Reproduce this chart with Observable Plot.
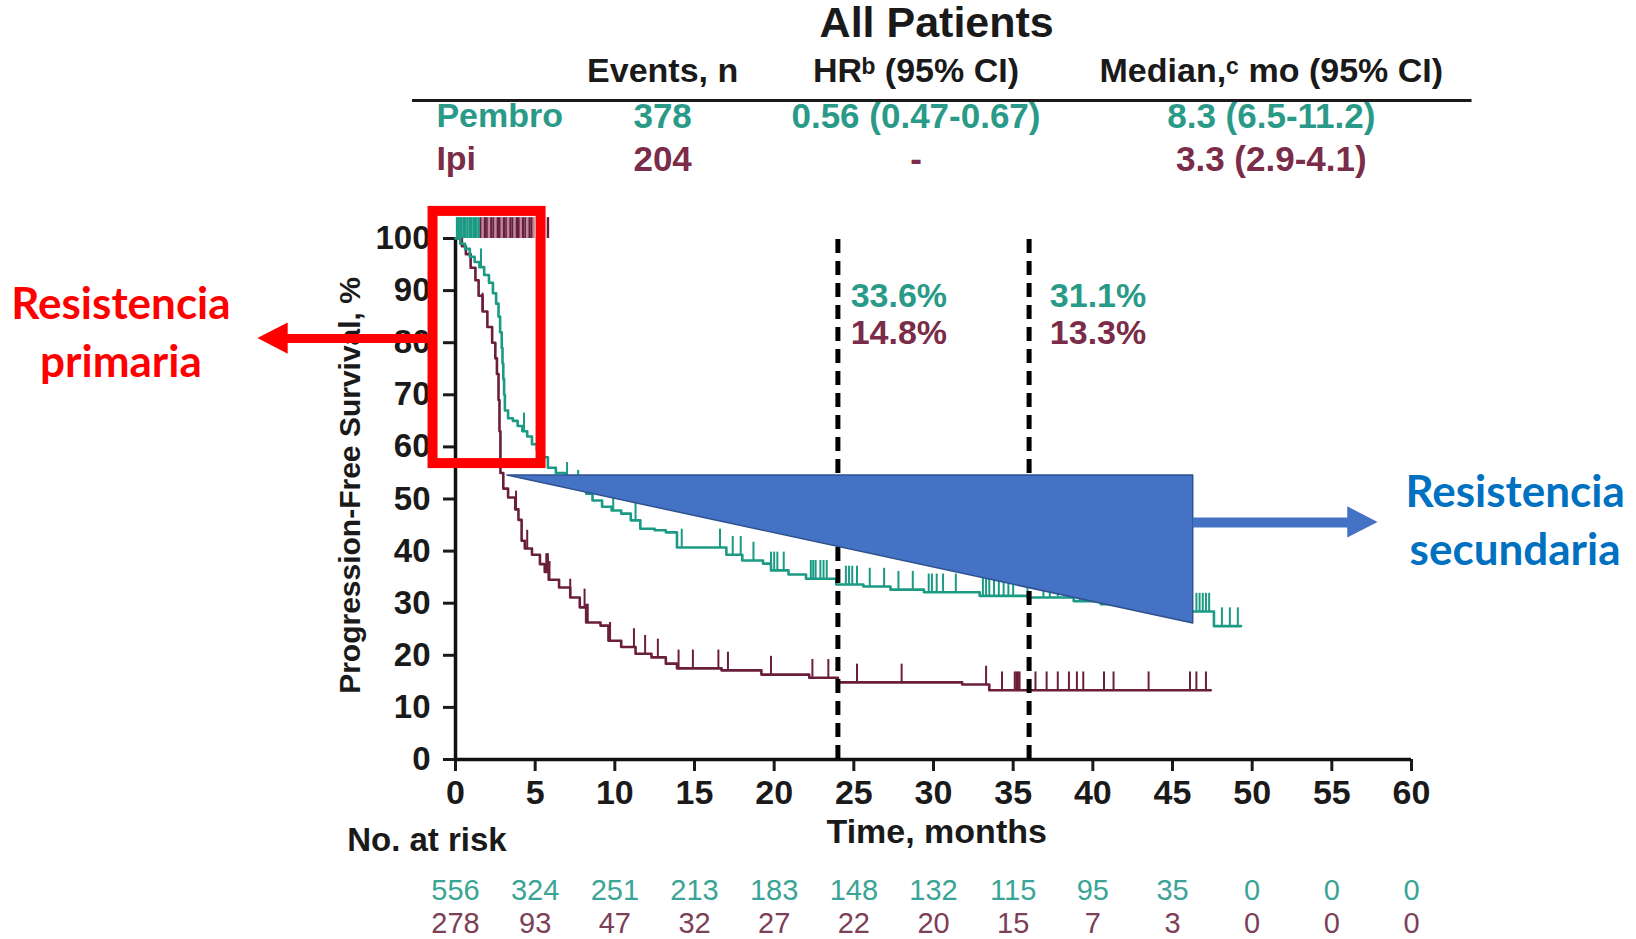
<!DOCTYPE html>
<html>
<head>
<meta charset="utf-8">
<script src="https://cdn.jsdelivr.net/npm/d3@7"></script>
<script src="https://cdn.jsdelivr.net/npm/@observablehq/plot@0.6"></script>
<style>
  html, body { margin: 0; padding: 0; background: #ffffff; }
  #chart svg { display: block; }
</style>
</head>
<body>
<div id="chart"></div>
<script>
// ---------------- DATA ----------------
const groups = ["Pembro", "Ipi"];
const tableHeaders = ["Events, n", "HR\u1D47 (95% CI)", "Median,\u1D9C mo (95% CI)"];
const eventsN = [378, 204];
const hazardRatio = ["0.56 (0.47-0.67)", "-"];
const medianPFS = ["8.3 (6.5-11.2)", "3.3 (2.9-4.1)"];

const riskTimes = [0, 5, 10, 15, 20, 25, 30, 35, 40, 45, 50, 55, 60];
const pembroAtRisk = [556, 324, 251, 213, 183, 148, 132, 115, 95, 35, 0, 0, 0];
const ipiAtRisk = [278, 93, 47, 32, 27, 22, 20, 15, 7, 3, 0, 0, 0];

// Kaplan-Meier step points (months, % progression-free)
const pembroTime = [0, 0.3, 0.6, 0.9, 1.2, 1.5, 1.8, 2.1, 2.35, 2.55, 2.7, 2.8, 2.9, 2.95, 3.0, 3.05, 3.1, 3.3, 3.6, 3.9, 4.2, 4.5, 4.8, 5.1, 5.5, 5.8, 6.3, 6.9, 7.5, 8.2, 8.6, 9.2, 9.8, 10.4, 11.0, 11.6, 12.5, 13.2, 13.9, 17.0, 18.0, 19.3, 19.8, 20.9, 22.0, 23.9, 25.6, 27.3, 29.4, 32.9, 35.9, 38.8, 40.5, 43.0, 45.5, 47.6, 49.3];
const pembroSurv = [100, 99, 98, 96.5, 95.5, 94.5, 93, 91.5, 89.5, 87.5, 85, 82, 79, 76, 73, 70, 67, 65.5, 65, 64, 63, 62, 60.5, 59.5, 58, 56, 55, 53.5, 52, 51, 49.7, 48.5, 47.8, 47.2, 45.9, 44.3, 44, 43.6, 40.7, 39.3, 38.2, 37.6, 36.3, 35.5, 34.7, 33.6, 33.2, 32.6, 32.1, 31.4, 31.1, 30.4, 29.8, 29.2, 28.4, 25.6, 25.6];

const ipiTime = [0, 0.4, 0.65, 0.95, 1.25, 1.45, 1.7, 2.0, 2.3, 2.5, 2.6, 2.7, 2.76, 2.82, 3.0, 3.3, 3.75, 3.95, 4.15, 4.35, 4.8, 5.3, 5.6, 5.85, 6.5, 7.2, 7.8, 8.2, 9.1, 9.6, 10.4, 11.3, 12.3, 13.2, 13.9, 16.7, 19.2, 22.2, 24.0, 31.8, 33.5, 47.4];
const ipiSurv = [100, 98.5, 97, 94.4, 92, 89, 86, 83, 80, 77, 74, 69, 63, 55, 52, 50.3, 48, 46, 42, 40.5, 39.3, 37.5, 36, 34.5, 33, 31.1, 29.2, 26.3, 25.7, 22.8, 21.6, 20.3, 19.6, 18.4, 17.5, 17.1, 16.3, 15.7, 14.8, 14.4, 13.3, 13.3];

// censoring times (months)
const pembroCensor = [1.6, 4.3, 7.0, 7.7, 9.9, 11.3, 14.2, 16.6, 17.4, 17.9, 18.7, 19.8, 20.0, 20.2, 20.6, 22.3, 22.45, 22.6, 22.9, 23.1, 23.3, 24.5, 24.7, 24.9, 25.2, 26.0, 26.9, 27.8, 28.7, 29.7, 29.9, 30.2, 30.6, 31.4, 33.1, 33.3, 33.5, 33.8, 34.1, 34.4, 34.7, 35.0, 35.9, 36.9, 37.3, 37.8, 38.5, 39.2, 40.0, 41.0, 42.0, 43.0, 44.0, 45.0, 46.5, 46.7, 46.9, 47.1, 47.3, 48.1, 48.6, 49.1];
const ipiCensor = [1.7, 3.8, 4.5, 5.7, 5.8, 5.9, 7.2, 8.1, 8.2, 8.3, 9.7, 11.2, 11.9, 12.7, 14.0, 14.9, 16.5, 17.1, 19.8, 22.4, 23.4, 25.2, 28.0, 33.3, 34.3, 35.1, 35.2, 35.3, 35.4, 36.4, 37.1, 37.8, 38.5, 39.0, 39.4, 40.7, 41.3, 43.5, 46.1, 46.5, 47.1];
const pembroCensorTop = [0.1, 0.2, 0.35, 0.5, 0.6, 0.75, 0.9, 1.0, 1.15, 1.3, 1.45];
const ipiCensorTop = [1.6, 1.7, 1.85, 2.0, 2.1, 2.25, 2.4, 2.5, 2.65, 2.8, 2.9, 3.05, 3.2, 3.3, 3.45, 3.6, 3.7, 3.85, 4.0, 4.1, 4.25, 4.4, 4.5, 4.65, 4.8, 4.9, 5.8];

// landmark estimates
const landmarkTimes = [24, 36];
const pembroLandmark = [33.6, 31.1];
const ipiLandmark = [14.8, 13.3];

// annotation texts
const primaryLabel = "Resistencia\nprimaria";
const secondaryLabel = "Resistencia\nsecundaria";
const titleText = "All Patients";
const yLabel = "Progression-Free Survival, %";
const xLabel = "Time, months";
const riskLabel = "No. at risk";

// ---------------- STYLE / LAYOUT ----------------
const TEAL = "#1b9a84";
const MAROON = "#6b1e3c";
const TEAL_TXT = "#2a9a88";
const MAROON_TXT = "#7a2c49";
const TEAL_RISK = "#3aa496";
const MAROON_RISK = "#7d4058";
const FONT = "'Liberation Sans', Arial, Helvetica, sans-serif";
const ANN_FONT = "Lato, 'Open Sans', sans-serif";

const stepSeries = (times, surv, name) => times.map((t, i) => ({t, s: surv[i], name}));
const survAt = (times, surv, t) => { let v = surv[0]; for (let i = 0; i < times.length; i++) { if (times[i] <= t) v = surv[i]; } return v; };

const pembroData = stepSeries(pembroTime, pembroSurv, "Pembro");
const ipiData = stepSeries(ipiTime, ipiSurv, "Ipi");
const pembroCens = pembroCensor.map(t => ({t, s: survAt(pembroTime, pembroSurv, t)}));
const ipiCens = ipiCensor.map(t => ({t, s: survAt(ipiTime, ipiSurv, t)}));
const TICK = 3.5;

// table layout (in chart units)
const colX = [13.0, 28.9, 51.2];
const rowLabelX = -1.2;
const rowY = [123.4, 115.2];
const headerY = 132.1;
const titleY = 141.3;
const rowColors = [TEAL_TXT, MAROON_TXT];

const rowLabels = groups.map((g, i) => ({x: rowLabelX, y: rowY[i], text: g, fill: rowColors[i]}));
const tableCells = [];
groups.forEach((g, i) => {
  tableCells.push({x: colX[0], y: rowY[i], text: String(eventsN[i]), fill: rowColors[i]});
  tableCells.push({x: colX[1], y: rowY[i], text: hazardRatio[i], fill: rowColors[i]});
  tableCells.push({x: colX[2], y: rowY[i], text: medianPFS[i], fill: rowColors[i]});
});
const headerRows = tableHeaders.map((h, i) => ({x: colX[i], y: headerY, text: h}));

const riskRows = [
  ...riskTimes.map((t, i) => ({t, n: pembroAtRisk[i], y: -25.1, fill: TEAL_RISK})),
  ...riskTimes.map((t, i) => ({t, n: ipiAtRisk[i], y: -31.6, fill: MAROON_RISK}))
];

const landmarkLabels = [
  ...landmarkTimes.map((t, i) => ({x: t + [0.8, 1.3][i], y: 89.0, text: pembroLandmark[i].toFixed(1) + "%", fill: TEAL_TXT})),
  ...landmarkTimes.map((t, i) => ({x: t + [0.8, 1.3][i], y: 81.8, text: ipiLandmark[i].toFixed(1) + "%", fill: MAROON_TXT}))
];

// annotation shapes (chart units)
const redBox = [{x1: -1.41, x2: 5.37, y1: 56.8, y2: 105.2}];
const redArrowY = 80.8;
const redHead = [{x: -12.4, y1: redArrowY, y2: redArrowY}, {x: -10.5, y1: redArrowY - 3, y2: redArrowY + 3}];
const blueTriangle = [{x: 3.26, y1: 54.5, y2: 54.5}, {x: 46.3, y1: 26.1, y2: 54.5}];
const blueArrowY = 45.5;
const blueHead = [{x: 56.0, y1: blueArrowY - 3, y2: blueArrowY + 3}, {x: 57.9, y1: blueArrowY, y2: blueArrowY}];

const chart = Plot.plot({
  width: 1636,
  height: 939,
  marginLeft: 455,
  marginRight: 225,
  marginTop: 238,
  marginBottom: 180,
  x: {domain: [0, 60]},
  y: {domain: [0, 100]},
  style: {fontFamily: FONT, color: "#1a1a1a", background: "#ffffff", overflow: "visible"},
  marks: [
    // axes
    Plot.axisX({ticks: riskTimes, tickSize: 12, tickPadding: 8, fontSize: 34, fontWeight: "bold", label: null, strokeWidth: 3}),
    Plot.axisY({ticks: d3.range(0, 101, 10), tickSize: 12, tickPadding: 13, fontSize: 33, fontWeight: "bold", label: null, strokeWidth: 3}),
    Plot.ruleY([0], {strokeWidth: 3.5, stroke: "#111"}),
    Plot.ruleX([0], {y1: 0, y2: 100, strokeWidth: 3.5, stroke: "#111"}),
    // curves
    Plot.line(ipiData, {x: "t", y: "s", curve: "step-after", stroke: MAROON, strokeWidth: 2.6}),
    Plot.line(pembroData, {x: "t", y: "s", curve: "step-after", stroke: TEAL, strokeWidth: 2.6}),
    // censor ticks
    Plot.ruleX(ipiCens, {x: "t", y1: "s", y2: d => d.s + TICK, stroke: MAROON, strokeWidth: 2}),
    Plot.ruleX(pembroCens, {x: "t", y1: "s", y2: d => d.s + TICK, stroke: TEAL, strokeWidth: 2}),
    Plot.ruleX(pembroCensorTop, {x: d => d, y1: 100, y2: 104, stroke: TEAL, strokeWidth: 2.5}),
    Plot.ruleX(ipiCensorTop, {x: d => d, y1: 100, y2: 104, stroke: (d, i) => i % 3 === 1 ? "#b88a9c" : MAROON, strokeWidth: 2.5}),
    // landmark lines
    Plot.ruleX(landmarkTimes, {y1: 0, y2: 101.2, stroke: "#000", strokeWidth: 5, strokeDasharray: "14,8"}),
    Plot.text(landmarkLabels, {x: "x", y: "y", text: "text", fill: "fill", textAnchor: "start", fontSize: 34, fontWeight: "bold"}),
    // header table
    Plot.text([titleText], {x: 30.2, y: titleY, text: d => d, fontSize: 43, fontWeight: "bold", fill: "#1a1a1a"}),
    Plot.text(headerRows, {x: "x", y: "y", text: "text", fontSize: 34, fontWeight: "bold", fill: "#1a1a1a"}),
    Plot.ruleY([126.5], {x1: -2.7, x2: 63.8, stroke: "#1a1a1a", strokeWidth: 3}),
    Plot.text(rowLabels, {x: "x", y: "y", text: "text", textAnchor: "start", fill: "fill", fontSize: 34, fontWeight: "bold"}),
    Plot.text(tableCells, {x: "x", y: "y", text: "text", fill: "fill", fontSize: 35, fontWeight: "bold"}),
    // axis labels
    Plot.text([yLabel], {x: -6.6, y: 52.6, text: d => d, rotate: -90, fontSize: 30, fontWeight: "bold", fill: "#1a1a1a"}),
    Plot.text([xLabel], {x: 30.2, y: -14.0, text: d => d, fontSize: 34, fontWeight: "bold", fill: "#1a1a1a"}),
    Plot.text([riskLabel], {x: -6.8, y: -15.5, text: d => d, textAnchor: "start", fontSize: 33, fontWeight: "bold", fill: "#1a1a1a"}),
    // risk table
    Plot.text(riskRows, {x: "t", y: "y", text: "n", fill: "fill", fontSize: 29}),
    // annotations
    Plot.rect(redBox, {x1: "x1", x2: "x2", y1: "y1", y2: "y2", fill: "none", stroke: "#ff0000", strokeWidth: 10}),
    Plot.ruleY([redArrowY], {x1: -10.6, x2: -1.41, stroke: "#ff0000", strokeWidth: 9}),
    Plot.areaY(redHead, {x: "x", y1: "y1", y2: "y2", fill: "#ff0000"}),
    Plot.text([primaryLabel], {x: -21.0, y: 82.5, text: d => d, fill: "#ff0000", fontSize: 44, fontWeight: "bold", fontFamily: ANN_FONT, lineHeight: 1.3}),
    Plot.areaY(blueTriangle, {x: "x", y1: "y1", y2: "y2", fill: "#4472c4", stroke: "#2f528f", strokeWidth: 1.5}),
    Plot.ruleY([blueArrowY], {x1: 46.3, x2: 56.1, stroke: "#4472c4", strokeWidth: 10}),
    Plot.areaY(blueHead, {x: "x", y1: "y1", y2: "y2", fill: "#4472c4"}),
    Plot.text([secondaryLabel], {x: 66.5, y: 46.4, text: d => d, fill: "#0070c0", fontSize: 44, fontWeight: "bold", fontFamily: ANN_FONT, lineHeight: 1.3})
  ]
});
document.getElementById("chart").appendChild(chart);
</script>
</body>
</html>
